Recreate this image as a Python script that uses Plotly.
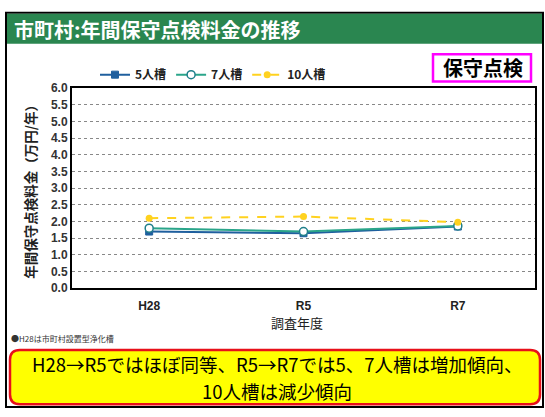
import plotly.graph_objects as go

W, H = 545, 417

categories = ["H28", "R5", "R7"]
series_names = ["5人槽", "7人槽", "10人槽"]
vals_5 = [1.70, 1.65, 1.85]
vals_7 = [1.80, 1.70, 1.87]
vals_10 = [2.10, 2.15, 1.98]
y_ticks = [0.0, 0.5, 1.0, 1.5, 2.0, 2.5, 3.0, 3.5, 4.0, 4.5, 5.0, 5.5, 6.0]

JP = "Noto Sans CJK JP"

def px(x):
    return x / W

def py(y):
    return 1 - y / H

fig = go.Figure()
fig.add_trace(go.Scatter(
    x=categories, y=vals_5, name=series_names[0], mode="lines+markers",
    line=dict(color="#1f5f9e", width=2),
    marker=dict(symbol="square", size=7, color="#1f5f9e", line=dict(color="#1f5f9e", width=1)),
))
fig.add_trace(go.Scatter(
    x=categories, y=vals_7, name=series_names[1], mode="lines+markers",
    line=dict(color="#2aa58a", width=2),
    marker=dict(symbol="circle", size=8, color="white", line=dict(color="#1f7f8a", width=1.5)),
))
fig.add_trace(go.Scatter(
    x=categories, y=vals_10, name=series_names[2], mode="lines+markers",
    line=dict(color="#ffd21f", width=2, dash="dash"),
    marker=dict(symbol="circle", size=7, color="#ffd21f"),
))

shapes = []
# outer frame
shapes.append(dict(type="rect", xref="paper", yref="paper", x0=px(6), x1=px(543), y0=py(414), y1=py(6),
                   line=dict(color="black", width=2), fillcolor="rgba(0,0,0,0)", layer="below"))
# title bar
shapes.append(dict(type="rect", xref="paper", yref="paper", x0=px(7), x1=px(542), y0=py(38), y1=py(7),
                   line=dict(width=0), fillcolor="#2a8650", layer="below"))
# magenta box
shapes.append(dict(type="rect", xref="paper", yref="paper", x0=px(433), x1=px(531), y0=py(77), y1=py(49),
                   line=dict(color="#ff00ff", width=2.5), fillcolor="white", layer="below"))

# rounded yellow box
def rrect(x0, y0, x1, y1, r):
    pts = (f"M {px(x0+r)},{py(y0)} L {px(x1-r)},{py(y0)} "
           f"Q {px(x1)},{py(y0)} {px(x1)},{py(y0+r)} "
           f"L {px(x1)},{py(y1-r)} Q {px(x1)},{py(y1)} {px(x1-r)},{py(y1)} "
           f"L {px(x0+r)},{py(y1)} Q {px(x0)},{py(y1)} {px(x0)},{py(y1-r)} "
           f"L {px(x0)},{py(y0+r)} Q {px(x0)},{py(y0)} {px(x0+r)},{py(y0)} Z")
    return pts

shapes.append(dict(type="path", xref="paper", yref="paper", path=rrect(10, 355, 540, 411, 10),
                   line=dict(color="#e8101a", width=2.5), fillcolor="#ffff00", layer="below"))

annotations = [
    dict(text="<b>市町村:年間保守点検料金の推移</b>", x=px(12), y=py(23), xref="paper", yref="paper",
         xanchor="left", yanchor="middle", showarrow=False,
         font=dict(family=JP, size=20, color="white")),
    dict(text="<b>保守点検</b>", x=px(483), y=py(63), xref="paper", yref="paper",
         xanchor="center", yanchor="middle", showarrow=False,
         font=dict(family=JP, size=20, color="black")),
    dict(text="●H28は市町村設置型浄化槽", x=px(9), y=py(343), xref="paper", yref="paper",
         xanchor="left", yanchor="middle", showarrow=False,
         font=dict(family=JP, size=8, color="#333333")),
    dict(text="H28→R5ではほぼ同等、R5→R7では5、7人槽は増加傾向、", x=px(277), y=py(369),
         xref="paper", yref="paper", xanchor="center", yanchor="middle", showarrow=False,
         font=dict(family=JP, size=18.5, color="black")),
    dict(text="10人槽は減少傾向", x=px(277), y=py(397),
         xref="paper", yref="paper", xanchor="center", yanchor="middle", showarrow=False,
         font=dict(family=JP, size=18.5, color="black")),
    dict(text="調査年度", x=px(297), y=py(326), xref="paper", yref="paper",
         xanchor="center", yanchor="middle", showarrow=False,
         font=dict(family=JP, size=13, color="#222222")),
    dict(text="<b>年間保守点検料金（万円/年）</b>", x=px(30), y=py(188), xref="paper", yref="paper",
         xanchor="center", yanchor="middle", showarrow=False, textangle=-90,
         font=dict(family=JP, size=13.5, color="#222222")),
]

fig.update_layout(
    width=W, height=H,
    margin=dict(l=0, r=0, t=0, b=0),
    paper_bgcolor="white", plot_bgcolor="white",
    shapes=shapes, annotations=annotations,
    showlegend=True,
    legend=dict(orientation="h", x=px(95), y=py(70), xanchor="left", yanchor="middle",
                font=dict(family=JP, size=12, color="#222222", weight="bold"), bgcolor="rgba(0,0,0,0)",
                itemwidth=30, tracegroupgap=0),
    xaxis=dict(domain=[px(72), px(535)], type="category", range=[-0.5, 2.5],
               showgrid=False, showline=True, linecolor="black", linewidth=2, mirror=True,
               ticks="", tickfont=dict(family="Liberation Sans", size=12, color="#222222", weight="bold"),
               ticklabelstandoff=5),
    yaxis=dict(domain=[py(291), py(84)], range=[0, 6], tickvals=y_ticks, tickformat=".1f",
               showgrid=True, gridcolor="#888888", griddash="dot", gridwidth=1,
               showline=True, linecolor="black", linewidth=2, mirror=True, ticks="",
               tickfont=dict(family="Liberation Sans", size=12, color="#333333", weight="bold"),
               zeroline=False),
)

fig.write_html("out.html", config={"displayModeBar": False},
               post_script="document.body.style.margin='0';document.body.style.overflow='hidden';")
